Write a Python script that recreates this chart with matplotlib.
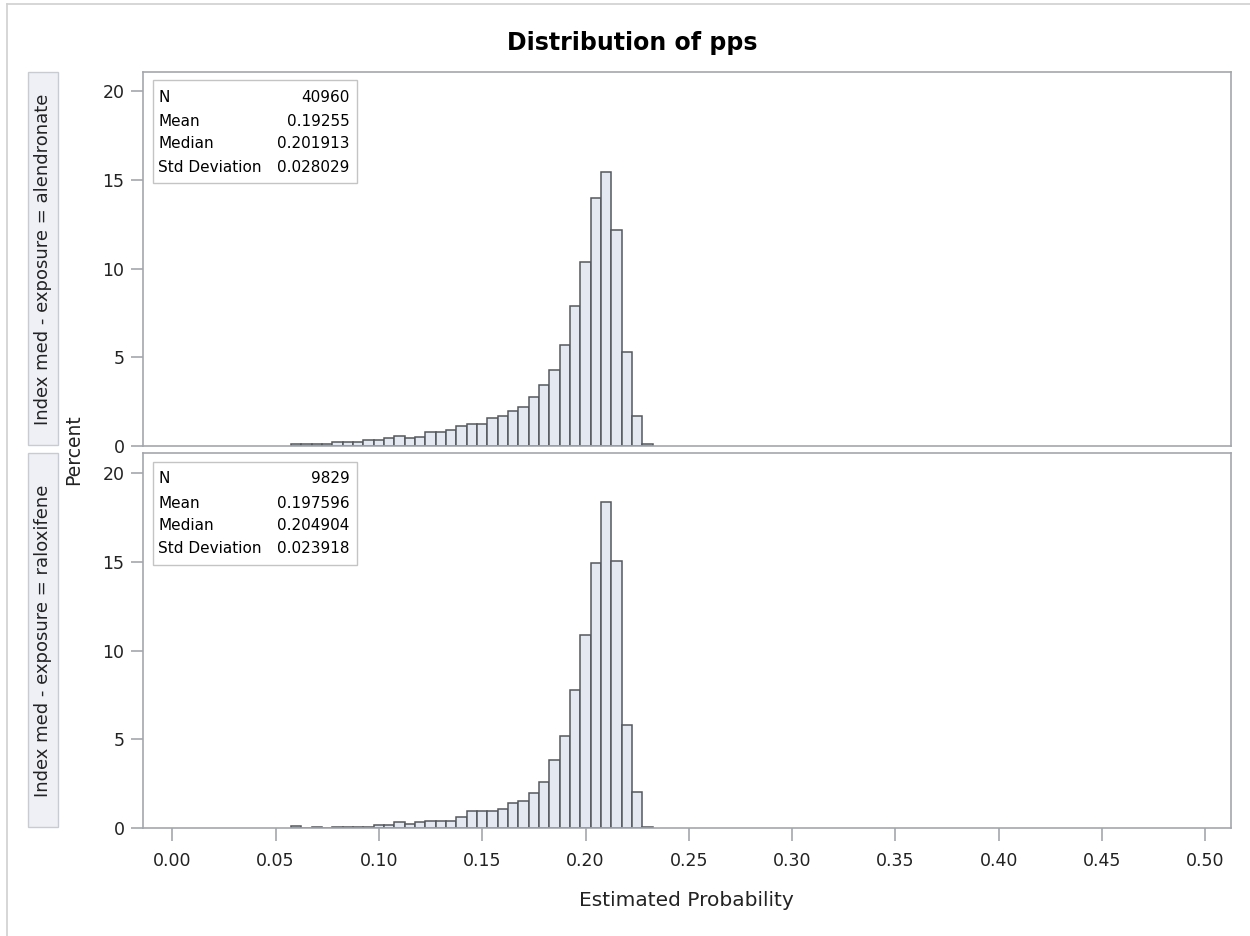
import numpy as np
import matplotlib
matplotlib.use('Agg')
import matplotlib.pyplot as plt
from matplotlib.patches import Rectangle
from matplotlib.lines import Line2D

# bin midpoints (width 0.005)
midpoints = [0.060, 0.065, 0.070, 0.075, 0.080, 0.085, 0.090, 0.095, 0.100, 0.105,
             0.110, 0.115, 0.120, 0.125, 0.130, 0.135, 0.140, 0.145, 0.150, 0.155,
             0.160, 0.165, 0.170, 0.175, 0.180, 0.185, 0.190, 0.195, 0.200, 0.205,
             0.210, 0.215, 0.220, 0.225, 0.230]
bin_width = 0.005

pct_alendronate = [0.10, 0.10, 0.10, 0.10, 0.23, 0.23, 0.23, 0.35, 0.35, 0.45,
                   0.56, 0.45, 0.53, 0.78, 0.78, 0.89, 1.10, 1.23, 1.23, 1.58,
                   1.68, 2.00, 2.20, 2.78, 3.43, 4.30, 5.70, 7.90, 10.40, 14.00,
                   15.45, 12.15, 5.30, 1.68, 0.10]
pct_raloxifene = [0.11, 0.00, 0.10, 0.00, 0.10, 0.10, 0.10, 0.10, 0.20, 0.20,
                  0.34, 0.22, 0.34, 0.43, 0.43, 0.43, 0.66, 0.98, 0.98, 0.98,
                  1.09, 1.43, 1.52, 1.99, 2.61, 3.82, 5.22, 7.76, 10.86, 14.93,
                  18.35, 15.03, 5.79, 2.07, 0.10]

panel_labels = ["Index med - exposure = alendronate",
                "Index med - exposure = raloxifene"]
stat_names = ["N", "Mean", "Median", "Std Deviation"]
stats_alendronate = ["40960", "0.19255", "0.201913", "0.028029"]
stats_raloxifene = ["9829", "0.197596", "0.204904", "0.023918"]

x_ticks = [0.00, 0.05, 0.10, 0.15, 0.20, 0.25, 0.30, 0.35, 0.40, 0.45, 0.50]
y_ticks = [0, 5, 10, 15, 20]

W, H = 1250, 936
plt.rcParams['font.family'] = 'DejaVu Sans'

fill = '#E4E8F1'
edge = '#54585E'
frame = '#A3A7AB'
text_col = '#222222'


def fx(px):
    return px / W


def fy(py):
    return 1 - py / H


fig = plt.figure(figsize=(W / 100, H / 100), dpi=100)

# panel pixel extents (top, bottom)
panels = [(71.7, 446.0), (453.3, 828.3)]
series = [pct_alendronate, pct_raloxifene]
stats = [stats_alendronate, stats_raloxifene]
left_px, right_px = 143.3, 1231.0

for i, (top, bot) in enumerate(panels):
    ax = fig.add_axes([fx(left_px), fy(bot), fx(right_px - left_px), (bot - top) / H])
    ax.bar(midpoints, series[i], width=bin_width, color=fill, edgecolor=edge,
           linewidth=1.1, zorder=2)
    ax.set_xlim(-0.01404, 0.51244)
    ax.set_ylim(0, 21.1)
    ax.set_yticks(y_ticks)
    ax.set_yticklabels([str(v) for v in y_ticks])
    for s in ax.spines.values():
        s.set_color(frame)
        s.set_linewidth(1.2)
    ax.tick_params(axis='y', direction='out', length=8.6, width=1.2, color=frame,
                   labelsize=12.5, labelcolor=text_col, pad=5)
    if i == 1:
        ax.set_xticks(x_ticks)
        ax.set_xticklabels([f"{v:.2f}" for v in x_ticks])
        ax.tick_params(axis='x', direction='out', length=9.4, width=1.2, color=frame,
                       labelsize=12.5, labelcolor=text_col, pad=8)
    else:
        ax.set_xticks([])

    # stats inset
    h = bot - top
    w = right_px - left_px
    bx0 = (152.7 - left_px) / w
    bx1 = (356.7 - left_px) / w
    by0 = 1 - (183.3 - 71.7) / h
    by1 = 1 - (80.0 - 71.7) / h
    ax.add_patch(Rectangle((bx0, by0), bx1 - bx0, by1 - by0, transform=ax.transAxes,
                           facecolor='white', edgecolor='#C4C4C4', linewidth=1.0,
                           zorder=5))
    rows_y = [97.3, 121.7, 144.0, 167.3]
    for name, val, ry in zip(stat_names, stats[i], rows_y):
        yy = 1 - (ry - 71.7) / h
        ax.text((158.3 - left_px) / w, yy, name, transform=ax.transAxes,
                ha='left', va='center', fontsize=11, color='black', zorder=6)
        ax.text((349.3 - left_px) / w, yy, val, transform=ax.transAxes,
                ha='right', va='center', fontsize=11, color='black', zorder=6)

    # row strip label on the left
    fig.add_artist(Rectangle((fx(27.7), fy(bot - 1)), fx(30.6), (bot - top - 1) / H,
                             transform=fig.transFigure, facecolor='#EEF0F6',
                             edgecolor='#C8CCD2', linewidth=1.0))
    fig.text(fx(43.0), fy((top + bot) / 2), panel_labels[i], rotation=90,
             ha='center', va='center', fontsize=13, color=text_col)

fig.text(fx(73.5), fy(450.0), "Percent", rotation=90, ha='center', va='center',
         fontsize=13.5, color=text_col)
fig.text(fx(686.0), fy(900.0), "Estimated Probability", ha='center', va='center',
         fontsize=14.5, color=text_col)
fig.text(fx(632.0), fy(43.0), "Distribution of pps", ha='center', va='center',
         fontsize=17, fontweight='bold', color='black')

# outer graph border
fig.add_artist(Line2D([fx(7), fx(7)], [0, fy(4)], transform=fig.transFigure,
                      color='#D0D0D0', linewidth=1.2))
fig.add_artist(Line2D([fx(7), 1], [fy(4), fy(4)], transform=fig.transFigure,
                      color='#D0D0D0', linewidth=1.2))

fig.savefig('out.png', dpi=100)
